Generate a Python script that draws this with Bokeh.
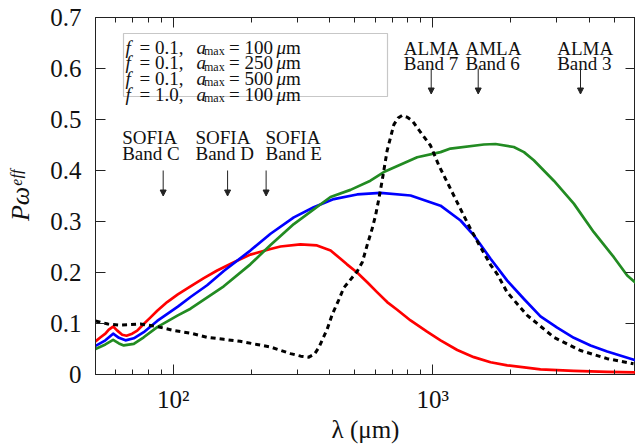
import math
from bokeh.plotting import figure
from bokeh.models import (Range1d, FixedTicker, LogAxis, LinearAxis, Label,
                          Arrow, NormalHead, BoxAnnotation)
from bokeh.embed import file_html
from bokeh.resources import INLINE

# ---------------- data (wavelength in micron, P*omega_eff) ----------------
RED_LAM = [50.2, 52.5, 54.8, 56.5, 58.7, 60.9, 63.6, 66.1, 69.5, 72.7, 77.0, 81.8,
           86.8, 94.8, 104.2, 116.6, 131.2, 147.7, 171.3, 198.2, 237.1, 259, 309,
           358, 404, 441, 467, 511, 559, 611, 667, 729, 821, 950, 1071, 1242,
           1439, 1669, 1935, 2599, 3493, 4697, 6037]
RED_VAL = [0.065, 0.073, 0.080, 0.088, 0.094, 0.086, 0.078, 0.076, 0.080, 0.086,
           0.099, 0.112, 0.125, 0.142, 0.157, 0.173, 0.189, 0.204, 0.220, 0.235,
           0.246, 0.251, 0.255, 0.253, 0.243, 0.227, 0.216, 0.200, 0.181, 0.161,
           0.142, 0.127, 0.106, 0.084, 0.067, 0.048, 0.034, 0.024, 0.018, 0.010,
           0.0073, 0.005, 0.004]

BLUE_LAM = [50.2, 54.8, 58.7, 61.8, 65.5, 70.5, 77.0, 86.8, 104.2, 116.6, 135.1,
            156.6, 198.2, 237.1, 291.5, 347.8, 415.6, 511, 629, 821, 1071, 1279,
            1439, 1669, 1935, 2245, 2599, 3014, 3493, 4052, 4697, 6037]
BLUE_VAL = [0.056, 0.067, 0.080, 0.072, 0.067, 0.071, 0.083, 0.105, 0.133, 0.152,
            0.175, 0.203, 0.243, 0.276, 0.308, 0.328, 0.344, 0.353, 0.356, 0.351,
            0.331, 0.302, 0.273, 0.227, 0.184, 0.148, 0.114, 0.092, 0.072, 0.057,
            0.045, 0.028]

GREEN_LAM = [50.2, 54.8, 58.7, 61.8, 64.5, 70.5, 77.0, 86.8, 104.2, 116.6, 156.6,
             198.2, 237.1, 291.5, 403.6, 481.8, 575, 647.6, 870.9, 1071, 1170,
             1573, 1744, 2051, 2245, 2449, 2925, 3493, 4172, 4982, 5610, 6037]
GREEN_VAL = [0.050, 0.059, 0.068, 0.061, 0.057, 0.060, 0.073, 0.093, 0.116, 0.129,
             0.173, 0.216, 0.254, 0.295, 0.348, 0.362, 0.380, 0.397, 0.426, 0.436,
             0.443, 0.451, 0.452, 0.446, 0.436, 0.420, 0.380, 0.335, 0.279, 0.230,
             0.194, 0.180]

BLACK_LAM = [50.2, 56, 62, 68.5, 74.8, 86.8, 101, 116.6, 135, 156.6, 181, 210, 237,
             283, 310, 333, 350, 364, 392, 410, 434, 454, 482, 511, 535, 559, 584,
             602, 619, 638, 667, 708, 735, 762, 800, 833, 897, 980, 1055, 1152,
             1260, 1376, 1503, 1669, 1770, 1935, 2311, 2925, 3707, 4697, 5931]
BLACK_VAL = [0.105, 0.099, 0.097, 0.098, 0.099, 0.094, 0.086, 0.081, 0.073, 0.069,
             0.065, 0.059, 0.054, 0.041, 0.036, 0.034, 0.040, 0.053, 0.089, 0.118,
             0.146, 0.170, 0.186, 0.202, 0.220, 0.254, 0.286, 0.312, 0.343, 0.380,
             0.439, 0.490, 0.503, 0.508, 0.504, 0.498, 0.475, 0.449, 0.410, 0.371,
             0.331, 0.292, 0.256, 0.215, 0.197, 0.161, 0.116, 0.073, 0.047, 0.031,
             0.021]

SERIES_F = ["0.1", "0.1", "0.1", "1.0"]
SERIES_AMAX = ["100", "250", "500", "100"]
SERIES_COLORS = ["#ff0000", "#0000ff", "#228b22", "#000000"]

SOFIA_NAMES = ["Band C", "Band D", "Band E"]
SOFIA_ARROW_UM = [91.5, 162, 228]
ALMA_TOP = ["ALMA", "AMLA", "ALMA"]
ALMA_NAMES = ["Band 7", "Band 6", "Band 3"]
ALMA_ARROW_UM = [986, 1496, 3707]

Y_TICKS = [0, 0.1, 0.2, 0.3, 0.4, 0.5, 0.6, 0.7]
Y_LABELS = ["0", "0.1", "0.2", "0.3", "0.4", "0.5", "0.6", "0.7"]
X_TICKS = [100, 1000]
X_LABELS = ["10²", "10³"]
X_MINOR = [60, 70, 80, 90, 200, 300, 400, 500, 600, 700, 800, 900, 2000, 3000, 4000, 5000]
X_TITLE = "λ (μm)"
Y_TITLE = "Pωᵉᶠᶠ"

# ---------------- layout helpers ----------------
FONT = "Liberation Serif"
INK = "#222222"
XMIN = 50.2
DEC = 259.6          # px per decade
FRAME_LEFT = 95      # px of frame left
FRAME_W = 635 - FRAME_LEFT
XMAX = XMIN * 10 ** (FRAME_W / DEC)
FRAME_BOT = 374      # px of y=0
PPU = 510.0          # px per unit y


def xd(px):
    return 10 ** (math.log10(XMIN) + (px - FRAME_LEFT) / DEC)


def yd(py):
    return (FRAME_BOT - py) / PPU


p = figure(width=635, height=447, x_axis_type="log",
           x_range=Range1d(XMIN, XMAX), y_range=Range1d(0, 0.7),
           output_backend="svg", toolbar_location=None,
           min_border_left=FRAME_LEFT, min_border_right=0,
           min_border_top=17, min_border_bottom=447 - FRAME_BOT)
p.xgrid.visible = False
p.ygrid.visible = False
p.outline_line_color = INK
p.outline_line_width = 1
p.background_fill_color = "white"
p.border_fill_color = "white"


def style_axis(ax, show_labels=True):
    ax.axis_line_color = INK
    ax.major_tick_line_color = INK
    ax.minor_tick_line_color = INK
    ax.major_tick_in = 10
    ax.major_tick_out = 0
    ax.minor_tick_in = 5
    ax.minor_tick_out = 0
    ax.major_label_text_font = FONT
    ax.major_label_text_color = "#111111"
    if show_labels:
        ax.major_label_text_font_size = "25px"
    else:
        ax.major_label_text_font_size = "1px"
        ax.major_label_text_alpha = 0
        ax.major_label_standoff = 0


xa = p.xaxis[0]
xa.ticker = FixedTicker(ticks=X_TICKS, minor_ticks=X_MINOR)
xa.major_label_overrides = dict(zip(X_TICKS, X_LABELS))
style_axis(xa)
xa.major_label_standoff = 11
xa.axis_label = X_TITLE
xa.axis_label_text_font = FONT
xa.axis_label_text_font_size = "25px"
xa.axis_label_text_font_style = "normal"
xa.axis_label_text_color = "#111111"
xa.axis_label_standoff = 0

ya = p.yaxis[0]
ya.ticker = FixedTicker(ticks=Y_TICKS)
ya.major_label_overrides = dict(zip(Y_TICKS, Y_LABELS))
style_axis(ya)
ya.major_label_standoff = 14
ya.axis_label = Y_TITLE
ya.axis_label_text_font = FONT
ya.axis_label_text_font_size = "26px"
ya.axis_label_text_font_style = "italic"
ya.axis_label_text_color = "#111111"
ya.axis_label_standoff = 12

top = LogAxis(ticker=FixedTicker(ticks=X_TICKS, minor_ticks=X_MINOR))
style_axis(top, False)
p.add_layout(top, "above")
right = LinearAxis(ticker=FixedTicker(ticks=Y_TICKS))
style_axis(right, False)
p.add_layout(right, "right")

# ---------------- curves ----------------
p.line(RED_LAM, RED_VAL, line_color=SERIES_COLORS[0], line_width=2.7, line_join="round")
p.line(BLUE_LAM, BLUE_VAL, line_color=SERIES_COLORS[1], line_width=2.7, line_join="round")
p.line(GREEN_LAM, GREEN_VAL, line_color=SERIES_COLORS[2], line_width=2.7, line_join="round")
p.line(BLACK_LAM, BLACK_VAL, line_color=SERIES_COLORS[3], line_width=3,
       line_dash="5 4", line_join="round")

# ---------------- annotations ----------------
def lab(x, y, text, size="19px", style="normal", **kw):
    p.add_layout(Label(x=x, y=y, text=text, text_font=FONT, text_font_size=size,
                       text_font_style=style, text_color="#111111",
                       text_baseline="alphabetic", text_align="left", **kw))


for px, name in zip([121.7, 195, 265], SOFIA_NAMES):
    lab(xd(px), yd(137.3), "SOFIA")
    lab(xd(px), yd(152.7), name)
for lam in SOFIA_ARROW_UM:
    p.add_layout(Arrow(end=NormalHead(size=6, fill_color=INK, line_color=INK, line_width=1),
                       x_start=lam, y_start=0.4, x_end=lam, y_end=0.35,
                       line_color=INK, line_width=1))

for px, t, name in zip([403.3, 465, 556.7], ALMA_TOP, ALMA_NAMES):
    lab(xd(px), yd(48.3), t)
    lab(xd(px), yd(63.3), name)
for lam in ALMA_ARROW_UM:
    p.add_layout(Arrow(end=NormalHead(size=6, fill_color=INK, line_color=INK, line_width=1),
                       x_start=lam, y_start=0.6, x_end=lam, y_end=0.55,
                       line_color=INK, line_width=1))

# ---------------- legend (text left, sample right) ----------------
p.add_layout(BoxAnnotation(left=xd(123), right=xd(387), top=yd(33), bottom=yd(96),
                           fill_color="white", fill_alpha=1.0,
                           line_color="#444444", line_width=1.2))
for i, (f, a, c) in enumerate(zip(SERIES_F, SERIES_AMAX, SERIES_COLORS)):
    base = 46.7 + 15.6 * i
    lab(xd(125), yd(base), "f", style="italic")
    lab(xd(139), yd(base), "= " + f + ",")
    lab(xd(196), yd(base), "a", style="italic")
    lab(xd(203.5), yd(base + 4), "max", size="12px")
    lab(xd(228.5), yd(base), "= " + a)
    lab(xd(276), yd(base), "μ", style="italic")
    lab(xd(285.5), yd(base), "m")
    ly = yd(41 + 15.6 * i)
    if c == "#000000":
        p.line([xd(330), xd(379)], [ly, ly], line_color=c, line_width=3, line_dash="5 4")
    else:
        p.line([xd(330), xd(379)], [ly, ly], line_color=c, line_width=2.7)

open("out.html", "w").write(file_html(p, INLINE))
